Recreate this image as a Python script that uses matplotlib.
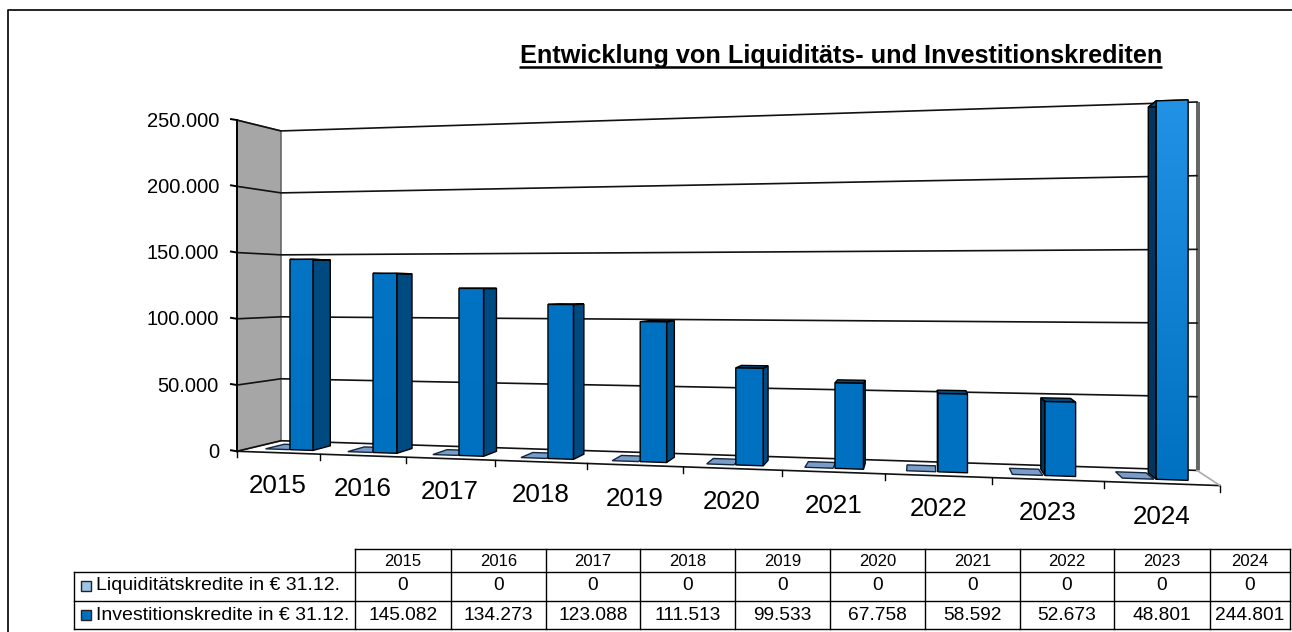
import matplotlib
matplotlib.use('Agg')
import matplotlib.pyplot as plt
from matplotlib.patches import Polygon
import numpy as np

plt.rcParams['font.family'] = ['Liberation Sans', 'DejaVu Sans']

years = [2015, 2016, 2017, 2018, 2019, 2020, 2021, 2022, 2023, 2024]
liquiditaet = [0, 0, 0, 0, 0, 0, 0, 0, 0, 0]
investition = [145082, 134273, 123088, 111513, 99533, 67758, 58592, 52673, 48801, 244801]
y_ticks = [0, 50000, 100000, 150000, 200000, 250000]
title = 'Entwicklung von Liquiditäts- und Investitionskrediten'
row_names = ['Liquiditätskredite in € 31.12.', 'Investitionskredite in € 31.12.']

# corners of the 3d box: (category pos, depth, value) -> pixel
box3d = [(0, 0, 0), (1, 0, 0), (0, 1, 0), (1, 1, 0), (0, 0, 1), (0, 1, 1), (1, 1, 1)]
box2d = [(237, 451), (1220, 486), (281, 441), (1197, 470), (237, 120), (281, 131), (1197, 102)]

rows = []
for (a, b, c), (px, py) in zip(box3d, box2d):
    rows.append([a, b, c, 1, 0, 0, 0, 0, -px*a, -px*b, -px*c, -px])
    rows.append([0, 0, 0, 0, a, b, c, 1, -py*a, -py*b, -py*c, -py])
P = np.linalg.svd(np.array(rows, float))[2][-1].reshape(3, 4)

def proj(i, d, v):
    # i = position in categories, d = depth 0..1, v = value
    w = P @ np.array([i / 10, d, v / 250000, 1])
    return w[0] / w[2], w[1] / w[2]

def fmt(v):
    return f'{v:,}'.replace(',', '.')

fig = plt.figure(figsize=(12.92, 6.32), dpi=100)
ax = fig.add_axes([0, 0, 1, 1])

# frame
ax.plot([8, 8, 1292], [632, 10, 10], color='black', lw=1.2)

# left wall, right wall
ax.add_patch(Polygon([proj(0, 0, 0), proj(0, 1, 0), proj(0, 1, 250000), proj(0, 0, 250000)],
                     fc='#a6a6a6', ec='#555555', lw=1, zorder=1))
rx0, ry0 = proj(10, 1, 0)
rx1, ry1 = proj(10, 1, 250000)
ax.add_patch(Polygon([(rx0 - 1, ry0), (rx1 - 1, ry1), (rx1 + 3, ry1), (rx0 + 3, ry0)],
                     fc='#666666', ec='none', zorder=1))
ax.plot(*zip(proj(0, 0, 0), proj(0, 0, 250000)), color='black', lw=1.4, zorder=2)

# gridlines on the walls
for v in y_ticks:
    pts = [proj(0, 0, v), proj(0, 1, v), proj(10, 1, v)]
    ax.plot(*zip(*pts), color='#111111', lw=1.2, zorder=2)
    x0, y0 = proj(0, 0, v)
    ax.plot([x0 - 6, x0], [y0 - 1, y0], color='black', lw=1.4, zorder=2)
    ax.text(x0 - 18, y0 + 1, fmt(v), ha='right', va='center', fontsize=14.5, color='black')

# floor and category axis
ax.plot(*zip(proj(0, 0, 0), proj(10, 0, 0)), color='#111111', lw=1.2, zorder=2)
ax.plot(*zip(proj(10, 0, 0), proj(10, 1, 0)), color='#aaaaaa', lw=1.2, zorder=2)
for i in range(11):
    x0, y0 = proj(i, 0, 0)
    ax.plot([x0, x0], [y0, y0 + 6], color='black', lw=1, zorder=2)
for i, yr in enumerate(years):
    x0, y0 = proj(i + 0.5, 0, 0)
    ax.text(x0, y0 + 33.5, str(yr), ha='center', va='center', fontsize=18.7, color='black')

bw = 0.28
d0, d1 = 0.27, 0.7

def gradient(poly, low, high, z):
    # vertical colour fade clipped to the bar front
    xs, ys = zip(*poly)
    grad = np.linspace(0, 1, 512)[:, None, None]
    img = (1 - grad) * np.array(low) + grad * np.array(high)
    im = ax.imshow(img, extent=[min(xs), max(xs), max(ys), min(ys)], aspect='auto', zorder=z,
                   origin='lower', interpolation='bilinear')
    patch = Polygon(poly, transform=ax.transData, fc='none', ec='none')
    ax.add_patch(patch)
    im.set_clip_path(patch)

base_col = np.array([0, 112, 192])
light_col = np.array([34, 146, 230])

for n, (lq, inv) in enumerate(zip(liquiditaet, investition)):
    # flat first series, left of the second one
    a, b = n + 0.48 - bw, n + 0.48
    flat = [proj(a, d0, lq), proj(b, d0, lq), proj(b, d1, lq), proj(a, d1, lq)]
    ax.add_patch(Polygon(flat, fc='#7a9cc6', ec='#12263f', lw=1, zorder=3))

    # second series
    a, b = n + 0.5, n + 0.5 + bw
    front = [proj(a, d0, 0), proj(b, d0, 0), proj(b, d0, inv), proj(a, d0, inv)]
    top = [proj(a, d0, inv), proj(b, d0, inv), proj(b, d1, inv), proj(a, d1, inv)]
    if proj(b, d1, 0)[0] > proj(b, d0, 0)[0]:
        side = [proj(b, d0, 0), proj(b, d1, 0), proj(b, d1, inv), proj(b, d0, inv)]
        side_col = '#004a82'
    else:
        side = [proj(a, d0, 0), proj(a, d1, 0), proj(a, d1, inv), proj(a, d0, inv)]
        side_col = '#03365e'
    ax.add_patch(Polygon(side, fc=side_col, ec='black', lw=1, zorder=4 + n * 0.01))
    ax.add_patch(Polygon(top, fc='#004a82', ec='black', lw=1, zorder=4 + n * 0.01))
    frac = (inv / 244801) ** 4
    high = base_col + frac * (light_col - base_col)
    gradient(front, base_col / 255, high / 255, 4.5 + n * 0.01)
    ax.add_patch(Polygon(front, fc='none', ec='black', lw=1, zorder=4.6 + n * 0.01))

# title
ax.text(841, 63, title, ha='center', va='baseline', fontsize=18.2, fontweight='bold', color='black')
ax.plot([519, 1162], [67, 67], color='black', lw=1.8, solid_capstyle='butt')

# data table
col_x = [355, 451, 546, 640, 735, 830, 925, 1020, 1114, 1210, 1290]
row_y = [549, 572, 601, 629]
ax.plot([355, 1290], [row_y[0]] * 2, color='black', lw=1)
ax.plot([74, 1290], [row_y[1]] * 2, color='black', lw=1)
ax.plot([74, 1290], [row_y[2]] * 2, color='black', lw=1)
ax.plot([74, 1290], [row_y[3]] * 2, color='black', lw=1)
ax.plot([74, 74], [row_y[1], row_y[3]], color='black', lw=1)
for x in col_x:
    ax.plot([x, x], [row_y[0], row_y[3]], color='black', lw=1)

for k, yr in enumerate(years):
    cx = (col_x[k] + col_x[k + 1]) / 2
    ax.text(cx, 561, str(yr), ha='center', va='center', fontsize=12)
    ax.text(cx, 586, fmt(liquiditaet[k]), ha='center', va='center', fontsize=13.8)
    ax.text(cx, 615, fmt(investition[k]), ha='center', va='center', fontsize=13.8)

for name, cy, col in zip(row_names, [586, 615], ['#9dc3e6', '#0070c0']):
    ax.add_patch(Polygon([(81, cy - 5), (91, cy - 5), (91, cy + 5), (81, cy + 5)], fc=col, ec='#222222', lw=1))
    ax.text(96, cy, name, ha='left', va='center', fontsize=14)

ax.set_xlim(0, 1292)
ax.set_ylim(632, 0)
ax.axis('off')
fig.savefig('out.png', dpi=100)
